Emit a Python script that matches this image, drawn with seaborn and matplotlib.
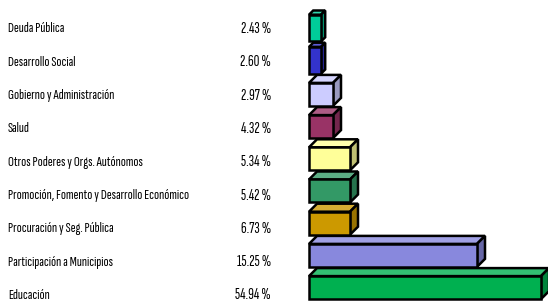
import numpy as np
import pandas as pd
import matplotlib
matplotlib.use("Agg")
import matplotlib.pyplot as plt
import matplotlib.colors as mcolors
import seaborn as sns

# budget shares (percent labels) and bar lengths as drawn in the picture
categories = ["Deuda Pública", "Desarrollo Social", "Gobierno y Administración", "Salud",
              "Otros Poderes y Orgs. Autónomos", "Promoción, Fomento y Desarrollo Económico",
              "Procuración y Seg. Pública", "Participación a Municipios", "Educación"]
percent = [2.43, 2.60, 2.97, 4.32, 5.34, 5.42, 6.73, 15.25, 54.94]
bar_len = [12, 12, 24, 24, 41, 41, 41, 168, 232]
colors = ["#00CC99", "#3333CC", "#CCCCFF", "#993366", "#FFFF99",
          "#339966", "#CC9900", "#8888DD", "#00B050"]

df = pd.DataFrame({"cat": categories, "len": bar_len, "pct": percent})

sns.set_style("white")
plt.rcParams["font.family"] = ["Sofia Sans Extra Condensed", "DejaVu Sans"]

W, Hf = 548, 302
fig = plt.figure(figsize=(W / 100, Hf / 100), dpi=100)
x0 = 309
ax = fig.add_axes([x0 / W, 0, (W - x0) / W, 1])

row_px = 32.2
first_c = 26
box_h = 31 / row_px
lw = 1.8

sns.barplot(data=df, y="cat", x="len", hue="cat", palette=colors, orient="h",
            order=categories, legend=False, width=box_h, saturation=1, ax=ax,
            edgecolor="black", linewidth=lw)
ax.set_ylim((Hf - first_c) / row_px, -first_c / row_px)
ax.set_xlim(0, W - x0)
ax.axis("off")


def shade(c, f):
    r = np.array(mcolors.to_rgb(c))
    if f > 0:
        return tuple(r + (1 - r) * f)
    return tuple(r * (1 + f))


for i, p in enumerate(ax.patches[:len(categories)]):
    L = df["len"][i]
    dpx = min(8, 0.35 * L)
    dy = dpx / row_px
    top = i - box_h / 2
    bot = i + box_h / 2
    p.set_y(top + dy)
    p.set_height(box_h - dy)
    p.set_joinstyle("miter")
    col = colors[i]
    ax.fill([0, L, L + dpx, dpx], [top + dy, top + dy, top, top],
            facecolor=shade(col, 0.2), edgecolor="black", linewidth=lw,
            joinstyle="miter", clip_on=False, zorder=1)
    ax.fill([L, L + dpx, L + dpx, L], [top + dy, top, bot - dy, bot],
            facecolor=shade(col, -0.25), edgecolor="black", linewidth=lw,
            joinstyle="miter", clip_on=False, zorder=1)
    p.set_zorder(2)
    p.set_clip_on(False)

for i, (name, v) in enumerate(zip(categories, percent)):
    y = 1 - (29 + 33.3 * i) / Hf
    fig.text(8 / W, y, name, ha="left", va="center", fontsize=10.7, color="black")
    fig.text(271 / W, y, f"{v:.2f} %", ha="right", va="center", fontsize=11.5, color="black")

fig.savefig("out.png", dpi=100)
